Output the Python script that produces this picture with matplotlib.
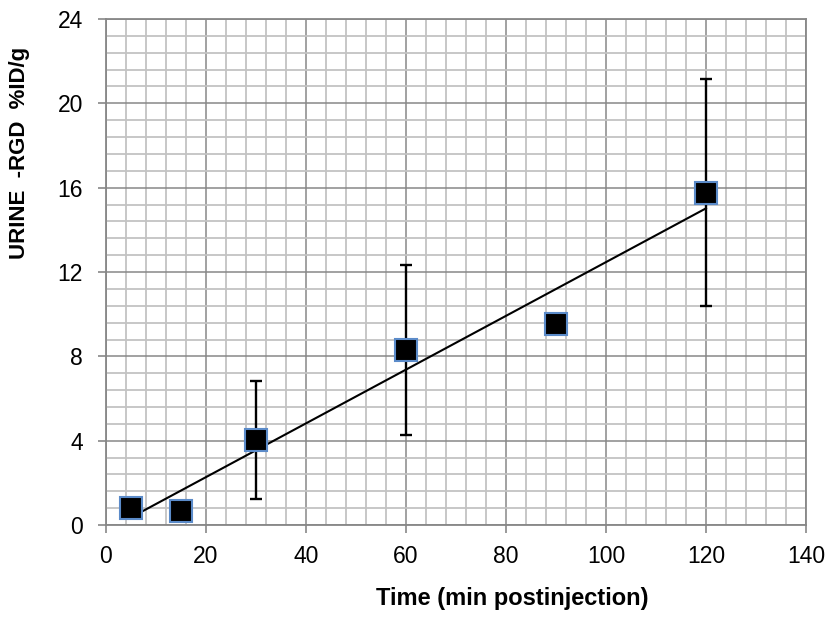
import numpy as np
import matplotlib
matplotlib.use("Agg")
import matplotlib.pyplot as plt
from matplotlib.ticker import MultipleLocator

# Data
time_min = [5, 15, 30, 60, 90, 120]
urine_pct = [0.80, 0.68, 4.03, 8.30, 9.55, 15.77]
urine_err = [0.0, 0.0, 2.80, 4.03, 0.0, 5.37]

x_ticks = [0, 20, 40, 60, 80, 100, 120, 140]
y_ticks = [0, 4, 8, 12, 16, 20, 24]

plt.rcParams['font.family'] = ['Liberation Sans', 'DejaVu Sans']

fig = plt.figure(figsize=(8.34, 6.17), dpi=100)
ax = fig.add_axes([0.127, 0.149, 0.8394, 0.8202])

major_c = '#878787'
minor_c = '#c3c3c3'

ax.set_xlim(0, 140)
ax.set_ylim(0, 24)
ax.set_xticks(x_ticks)
ax.set_yticks(y_ticks)
ax.xaxis.set_minor_locator(MultipleLocator(4))
ax.yaxis.set_minor_locator(MultipleLocator(0.8))
ax.grid(which='minor', color=minor_c, linewidth=1.3, zorder=0)
ax.grid(which='major', color=major_c, linewidth=1.1, zorder=0.5)
ax.set_axisbelow(True)
for s in ax.spines.values():
    s.set_color(major_c)
    s.set_linewidth(1.3)
ax.tick_params(which='major', direction='out', length=5.5, width=1.2,
               color=major_c, labelsize=16.5)
ax.tick_params(axis='x', pad=9)
ax.tick_params(axis='y', pad=11)
ax.tick_params(which='minor', length=0)

# trendline (linear fit)
x = np.array(time_min, dtype=float)
y = np.array(urine_pct, dtype=float)
e = np.array(urine_err, dtype=float)
p = np.polyfit(x, y, 1)
xl = np.array([x.min(), x.max()])
ax.plot(xl, np.polyval(p, xl), color='black', linewidth=1.5, zorder=3)

m = e > 0
ax.errorbar(x[m], y[m], yerr=e[m], fmt='none', ecolor='black',
            elinewidth=1.7, capsize=4.3, capthick=1.7, zorder=4)
ax.plot(x, y, linestyle='none', marker='s', markersize=15.5,
        markerfacecolor='black', markeredgecolor='#5b8bc9',
        markeredgewidth=1.5, zorder=5)

ax.set_xlabel('Time (min postinjection)', fontsize=17, fontweight='bold')
ax.xaxis.set_label_coords(0.581, -0.145)
ax.xaxis.label.set_va('center')
ax.set_ylabel('URINE  -RGD  %ID/g', fontsize=16, fontweight='bold')
ax.yaxis.set_label_coords(-0.123, 0.735)
ax.yaxis.label.set_va('center')

fig.savefig('out.png', dpi=100)
